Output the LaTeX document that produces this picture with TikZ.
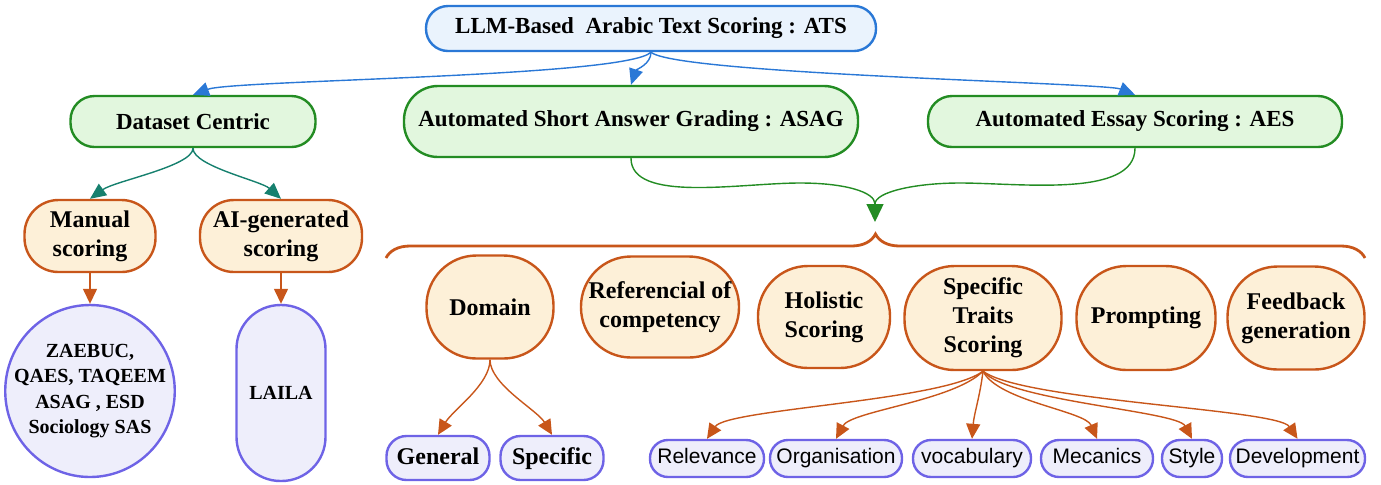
\documentclass[tikz,border=0pt]{standalone}
\usepackage{fontspec}
\setmainfont{Liberation Serif}
\setsansfont{Liberation Sans}
\usetikzlibrary{arrows.meta,decorations.pathreplacing,shapes.geometric}
\definecolor{atsblue}{HTML}{2A78D6}
\definecolor{atsfill}{HTML}{EAF3FD}
\definecolor{catgreen}{HTML}{238C23}
\definecolor{catfill}{HTML}{E2F7DE}
\definecolor{dsteal}{HTML}{16806E}
\definecolor{methorange}{HTML}{C8561A}
\definecolor{methfill}{HTML}{FDF0D8}
\definecolor{lavline}{HTML}{6E63E6}
\definecolor{lavfill}{HTML}{EEEEFB}
\begin{document}
\begin{tikzpicture}[x=0.5pt,y=-0.5pt,
  box/.style={draw, line width=1.2pt, align=center, inner sep=0pt},
  topbox/.style={box, draw=atsblue, fill=atsfill, font=\fontsize{11.5}{14}\selectfont\bfseries},
  catbox/.style={box, draw=catgreen, fill=catfill, font=\fontsize{11.5}{14}\selectfont\bfseries},
  methbox/.style={box, draw=methorange, fill=methfill, font=\fontsize{12}{14.5}\selectfont\bfseries},
  databox/.style={box, draw=lavline, fill=lavfill, font=\fontsize{10}{12.8}\selectfont\bfseries},
  subbox/.style={box, draw=lavline, fill=lavfill, minimum width=51.5pt, minimum height=22pt,
    rounded corners=10pt, text height=8.5pt, text depth=2.5pt, font=\fontsize{12}{14}\selectfont\bfseries},
  traitbox/.style={box, draw=lavline, fill=lavfill, minimum height=18.5pt, rounded corners=9pt,
    text height=7.6pt, text depth=2.2pt, font=\fontsize{10.5}{12}\selectfont\sffamily},
  bluearr/.style={draw=atsblue, line width=0.7pt, -{Triangle[length=8pt,width=7pt]}},
  tealarr/.style={draw=dsteal, line width=0.7pt, -{Triangle[length=8pt,width=7pt]}},
  greenline/.style={draw=catgreen, line width=0.7pt},
  orarr/.style={draw=methorange, line width=0.7pt, -{Triangle[length=7.5pt,width=7pt]}}]
  \useasboundingbox (0,0) rectangle (1381,484);
  %Root
  \node[topbox, minimum width=225pt, minimum height=22.5pt, rounded corners=11pt] (ats) at (651,28.5)
    {LLM-Based~~Arabic Text Scoring : ATS};
  %Categories
  \node[catbox, minimum width=122.5pt, minimum height=25.5pt, rounded corners=12pt] (dc) at (193,121.5) {Dataset Centric};
  \node[catbox, minimum width=227pt, minimum height=35.5pt, rounded corners=17pt] (asag) at (631,121.5)
    {Automated Short Answer Grading : ASAG};
  \node[catbox, minimum width=207pt, minimum height=25.5pt, rounded corners=12pt] (aes) at (1135,121.5)
    {Automated Essay Scoring : AES};
  \draw[bluearr] (ats.south) .. controls +(-25,25) and +(40,-15) .. (dc.north);
  \draw[bluearr] (ats.south) .. controls +(0,12) and +(5,-15) .. (asag.north);
  \draw[bluearr] (ats.south) .. controls +(25,22) and +(-30,-12) .. (aes.north);
  %Dataset side
  \node[methbox, minimum width=65.5pt, minimum height=36pt, rounded corners=17pt] (manual) at (90,236) {Manual\\scoring};
  \node[methbox, minimum width=81pt, minimum height=36pt, rounded corners=17pt] (aigen) at (281,236) {AI-generated\\scoring};
  \draw[tealarr] (dc.south) .. controls +(0,18) and +(25,-18) .. (manual.north);
  \draw[tealarr] (dc.south) .. controls +(0,18) and +(-20,-18) .. (aigen.north);
  \node[databox, ellipse, inner sep=-8pt, minimum width=83.5pt, minimum height=86pt] (corpora) at (90,391)
    {ZAEBUC,\\QAES, TAQEEM\\ASAG , ESD\\Sociology SAS};
  \node[databox, minimum width=44.5pt, minimum height=88pt, rounded corners=22pt] (laila) at (281,393) {LAILA};
  \draw[orarr] (manual.south) -- (corpora.north);
  \draw[orarr] (aigen.south) -- (laila.north);
  %Merge of ASAG and AES
  \coordinate (join) at (875,204);
  \coordinate (tip) at (875,222);
  \draw[greenline] (asag.south) .. controls +(0,45) and +(-60,0) .. (800,183) .. controls +(45,0) and +(0,-12) .. (join);
  \draw[greenline] (aes.south) .. controls +(0,50) and +(60,0) .. (960,183) .. controls +(-45,0) and +(0,-12) .. (join);
  \draw[draw=catgreen, line width=0.7pt, -{Triangle[length=9pt,width=8.5pt]}] (join) -- (tip);
  \draw[methorange, line width=1.4pt, decorate, decoration={brace, amplitude=12pt}] (386,258) -- (1365,258);
  %Aspects
  \node[methbox, minimum width=63.5pt, minimum height=51.5pt, rounded corners=25pt] (domain) at (490,307) {Domain};
  \node[methbox, minimum width=79pt, minimum height=50.5pt, rounded corners=25pt] (refcomp) at (660,307) {Referencial of\\competency};
  \node[methbox, minimum width=66pt, minimum height=51pt, rounded corners=25pt] (holistic) at (824,317) {Holistic\\Scoring};
  \node[methbox, minimum width=78.5pt, minimum height=52pt, rounded corners=25pt] (traits) at (983,318) {Specific\\Traits\\Scoring};
  \node[methbox, minimum width=69.5pt, minimum height=52pt, rounded corners=25pt] (prompting) at (1146,318) {Prompting};
  \node[methbox, minimum width=68.5pt, minimum height=51.5pt, rounded corners=25pt] (feedback) at (1296,318) {Feedback\\generation};
  %Domain kinds
  \node[subbox] (general) at (438,458) {General};
  \node[subbox] (specific) at (552,458) {Specific};
  \draw[orarr] (domain.south) .. controls +(0,25) and +(15,-25) .. (general.north);
  \draw[orarr] (domain.south) .. controls +(0,25) and +(-15,-25) .. (specific.north);
  %Traits
  \node[traitbox, minimum width=57pt] (relevance) at (707,458.5) {Relevance};
  \node[traitbox, minimum width=66pt] (organisation) at (836,458.5) {Organisation};
  \node[traitbox, minimum width=59pt] (vocabulary) at (972,458.5) {vocabulary};
  \node[traitbox, minimum width=56pt] (mecanics) at (1097,458.5) {Mecanics};
  \node[traitbox, minimum width=30pt] (style) at (1192,458.5) {Style};
  \node[traitbox, minimum width=67.5pt] (development) at (1297.5,458.5) {Development};
  \draw[orarr] (traits.south) .. controls +(-40,30) and +(20,-30) .. (relevance.north);
  \draw[orarr] (traits.south) .. controls +(-30,30) and +(15,-28) .. (organisation.north);
  \draw[orarr] (traits.south) .. controls +(-3,25) and +(2,-25) .. (vocabulary.north);
  \draw[orarr] (traits.south) .. controls +(15,30) and +(-12,-28) .. (mecanics.north);
  \draw[orarr] (traits.south) .. controls +(25,30) and +(-15,-28) .. (style.north);
  \draw[orarr] (traits.south) .. controls +(40,30) and +(-20,-30) .. (development.north);
\end{tikzpicture}
\end{document}
